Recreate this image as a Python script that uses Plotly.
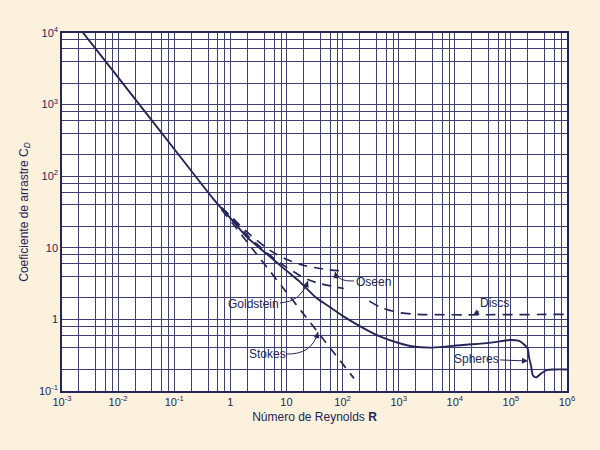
import plotly.graph_objects as go

# ---------------- data ----------------
sphere_R = [0.00237, 0.01, 0.1, 0.5, 1, 2, 5, 10, 17, 34, 63, 100, 300, 460,
            1000, 1800, 4000, 13600, 41600, 95000, 140000, 164000, 198000, 210000,
            230000, 246000, 280000, 350000, 430000, 600000, 1000000]
sphere_CD = [10100, 2400, 240, 48, 26, 14, 7.6, 4.8, 3.4, 2.0, 1.44, 1.12, 0.68, 0.58,
             0.468, 0.418, 0.404, 0.44, 0.47, 0.515, 0.50, 0.46, 0.395, 0.30,
             0.22, 0.166, 0.155, 0.177, 0.196, 0.2, 0.2]

stokes_R = [0.7, 1, 10, 160]
stokes_CD = [34, 24, 2.4, 0.15]

oseen_R = [0.7, 1, 2, 5, 10, 20, 50, 113]
oseen_CD = [36, 28, 16.5, 9.3, 6.9, 5.7, 5.0, 4.7]

goldstein_R = [0.7, 1, 2, 4, 8, 15, 24, 40, 65, 105]
goldstein_CD = [36, 27, 15, 9.2, 6.0, 4.4, 3.6, 3.15, 2.9, 2.7]

discs_R = [300, 500, 1000, 2000, 1000000]
discs_CD = [1.8, 1.45, 1.25, 1.18, 1.18]

x_ticks = [1e-3, 1e-2, 1e-1, 1, 10, 1e2, 1e3, 1e4, 1e5, 1e6]
x_labels = ["10<sup>-3</sup>", "10<sup>-2</sup>", "10<sup>-1</sup>", "1", "10",
            "10<sup>2</sup>", "10<sup>3</sup>", "10<sup>4</sup>", "10<sup>5</sup>", "10<sup>6</sup>"]
y_ticks = [1e-1, 1, 10, 1e2, 1e3, 1e4]
y_labels = ["10<sup>-1</sup>", "1", "10", "10<sup>2</sup>", "10<sup>3</sup>", "10<sup>4</sup>"]
grid_mult = [2, 4, 6, 8]

# ---------------- styling ----------------
BG = "#fcf1dd"
NAVY = "#25255a"
GRID = "#3f3f72"
FONT = "Liberation Sans, Arial, sans-serif"
W, H = 600, 450
L, R_, T, B = 62, 33, 33, 59
PW, PH = W - L - R_, H - T - B


def px(x):
    return (x - L) / PW


def py(y):
    return (H - B - y) / PH


def minor_vals(ticks):
    return [t * m for t in ticks[:-1] for m in grid_mult]


fig = go.Figure()
DASH = "9px,7px"
fig.add_trace(go.Scatter(x=stokes_R, y=stokes_CD, mode="lines",
                         line=dict(color=NAVY, width=1.7, dash=DASH)))
fig.add_trace(go.Scatter(x=oseen_R, y=oseen_CD, mode="lines",
                         line=dict(color=NAVY, width=1.7, dash=DASH, shape="spline", smoothing=0.8)))
fig.add_trace(go.Scatter(x=goldstein_R, y=goldstein_CD, mode="lines",
                         line=dict(color=NAVY, width=1.7, dash=DASH, shape="spline", smoothing=0.8)))
fig.add_trace(go.Scatter(x=discs_R, y=discs_CD, mode="lines",
                         line=dict(color=NAVY, width=1.7, dash="10px,7px", shape="spline", smoothing=0.8)))
fig.add_trace(go.Scatter(x=sphere_R, y=sphere_CD, mode="lines",
                         line=dict(width=1.9, color=NAVY, shape="spline", smoothing=0.7)))

axis_common = dict(type="log", showgrid=True, gridcolor=GRID, gridwidth=1,
                   showline=True, linecolor=NAVY, linewidth=1.5, mirror=True,
                   ticks="", zeroline=False,
                   tickfont=dict(family=FONT, size=11, color=NAVY))

fig.update_xaxes(range=[-3, 6], tickmode="array", tickvals=x_ticks, ticktext=x_labels,
                 minor=dict(tickmode="array", tickvals=minor_vals(x_ticks), showgrid=True,
                            gridcolor=GRID, gridwidth=1, ticks=""),
                 title=dict(text="Número de Reynolds <b>R</b>",
                            font=dict(family=FONT, size=12, color=NAVY), standoff=6),
                 **axis_common)
fig.update_yaxes(range=[-1, 4], tickmode="array", tickvals=y_ticks, ticktext=y_labels,
                 minor=dict(tickmode="array", tickvals=minor_vals(y_ticks), showgrid=True,
                            gridcolor=GRID, gridwidth=1, ticks=""),
                 title=dict(text="Coeficiente de arrastre C<sub><i>D</i></sub>",
                            font=dict(family=FONT, size=12, color=NAVY), standoff=8),
                 **axis_common)

lab_font = dict(family=FONT, size=12, color=NAVY)
ann = []
shapes = []

# text labels
for text, x, y in [("Oseen", 373, 282), ("Goldstein", 253, 304), ("Stokes", 267, 354)]:
    ann.append(dict(xref="paper", yref="paper", x=px(x), y=py(y), text=text,
                    showarrow=False, font=lab_font, xanchor="center", yanchor="middle"))

# curved arrow shafts (paper coordinates)
for (x0, y0), (cx, cy), (x1, y1), (ax, ay) in [
    ((354, 281), (338, 282), (335, 272), (2, 8)),
    ((280, 303), (301, 302), (308, 281), (-3, 8)),
    ((286, 354), (312, 355), (318, 332), (-2, 8)),
]:
    shapes.append(dict(type="path", xref="paper", yref="paper",
                       path=f"M {px(x0)},{py(y0)} Q {px(cx)},{py(cy)} {px(x1)},{py(y1)}",
                       line=dict(color=NAVY, width=1)))
    ann.append(dict(xref="paper", yref="paper", x=px(x1), y=py(y1), text="",
                    showarrow=True, ax=ax, ay=ay, arrowhead=2, arrowsize=1.2,
                    arrowwidth=1, arrowcolor=NAVY, standoff=0))

# straight arrows
ann.append(dict(xref="paper", yref="paper", x=px(473), y=py(315), text="Discs",
                showarrow=True, ax=21, ay=-12, arrowhead=2, arrowsize=1.2, arrowwidth=1,
                arrowcolor=NAVY, font=lab_font, standoff=0))
ann.append(dict(xref="paper", yref="paper", x=px(528), y=py(361), text="Spheres",
                showarrow=True, ax=-52, ay=-2, arrowhead=2, arrowsize=1.2, arrowwidth=1,
                arrowcolor=NAVY, font=lab_font, standoff=0))

fig.update_layout(width=W, height=H, margin=dict(l=L, r=R_, t=T, b=B),
                  paper_bgcolor=BG, plot_bgcolor="white", showlegend=False,
                  annotations=ann, shapes=shapes)

fig.write_html("out.html")
